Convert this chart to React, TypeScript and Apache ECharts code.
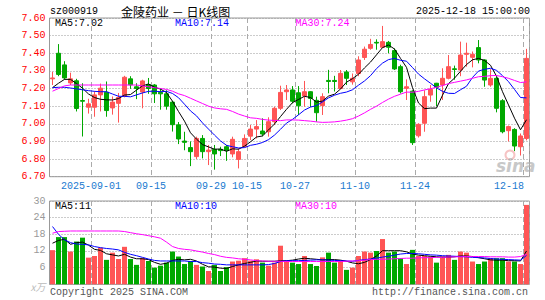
import React, { useEffect, useRef } from 'react';
import * as echarts from 'echarts';

const categories = [
  '2025-08-21', '2025-08-22', '2025-08-25', '2025-08-26', '2025-08-27', '2025-08-28', '2025-08-29',
  '2025-09-01', '2025-09-02', '2025-09-03', '2025-09-04', '2025-09-05',
  '2025-09-08', '2025-09-09', '2025-09-10', '2025-09-11', '2025-09-12',
  '2025-09-15', '2025-09-16', '2025-09-17', '2025-09-18', '2025-09-19',
  '2025-09-22', '2025-09-23', '2025-09-24', '2025-09-25', '2025-09-26',
  '2025-09-29', '2025-09-30',
  '2025-10-09', '2025-10-10',
  '2025-10-13', '2025-10-14', '2025-10-15', '2025-10-16', '2025-10-17',
  '2025-10-20', '2025-10-21', '2025-10-22', '2025-10-23', '2025-10-24',
  '2025-10-27', '2025-10-28', '2025-10-29', '2025-10-30', '2025-10-31',
  '2025-11-03', '2025-11-04', '2025-11-05', '2025-11-06', '2025-11-07',
  '2025-11-10', '2025-11-11', '2025-11-12', '2025-11-13', '2025-11-14',
  '2025-11-17', '2025-11-18', '2025-11-19', '2025-11-20', '2025-11-21',
  '2025-11-24', '2025-11-25', '2025-11-26', '2025-11-27', '2025-11-28',
  '2025-12-01', '2025-12-02', '2025-12-03', '2025-12-04', '2025-12-05',
  '2025-12-08', '2025-12-09', '2025-12-10', '2025-12-11', '2025-12-12',
  '2025-12-15', '2025-12-16', '2025-12-17', '2025-12-18',
];

const tickDates = ['2025-09-01', '2025-09-15', '2025-09-29', '2025-10-15', '2025-10-27', '2025-11-10', '2025-11-24', '2025-12-18'];
const tickTexts = ['2025-09-01', '09-15', '09-29', '10-15', '10-27', '11-10', '11-24', '12-18'];

const opens = [7.255, 7.40, 7.334, 7.232, 7.244, 7.132, 7.094, 7.094, 7.164, 7.179,
  7.09, 7.116, 7.155, 7.255, 7.21, 7.18, 7.222, 7.22, 7.178, 7.17,
  7.123, 6.994, 6.902, 6.865, 6.814, 6.917, 6.842, 6.855, 6.855, 6.87,
  6.829, 6.798, 6.87, 6.93, 6.97, 6.959, 6.955, 7.012, 7.088, 7.182,
  7.192, 7.176, 7.158, 7.182, 7.133, 7.103, 7.246, 7.246, 7.2, 7.294,
  7.238, 7.285, 7.376, 7.428, 7.462, 7.434, 7.462, 7.415, 7.324, 7.201,
  7.185, 6.932, 7.003, 7.163, 7.23, 7.22, 7.258, 7.312, 7.305, 7.394,
  7.377, 7.432, 7.362, 7.22, 7.258, 7.131, 6.961, 6.968, 6.87, 6.917];

const closes = [7.26, 7.28, 7.26, 7.255, 7.087, 7.128, 7.113, 7.164, 7.202, 7.075,
  7.123, 7.149, 7.264, 7.221, 7.20, 7.243, 7.20, 7.17, 7.17, 7.10,
  6.995, 6.914, 6.895, 6.842, 6.917, 6.842, 6.851, 6.829, 6.848, 6.848,
  6.912, 6.842, 6.917, 6.97, 6.984, 6.942, 7.012, 7.088, 7.178, 7.192,
  7.128, 7.102, 7.182, 7.144, 7.063, 7.154, 7.24, 7.24, 7.286, 7.258,
  7.258, 7.362, 7.423, 7.45, 7.458, 7.466, 7.434, 7.311, 7.182, 7.21,
  6.893, 6.997, 7.154, 7.195, 7.207, 7.258, 7.324, 7.308, 7.39, 7.40,
  7.394, 7.362, 7.248, 7.258, 7.088, 6.955, 6.984, 6.874, 6.931, 7.371];

const lows = [7.22, 7.27, 7.25, 7.22, 7.07, 6.928, 7.058, 7.04, 7.07, 7.04,
  7.052, 7.007, 7.15, 7.198, 7.14, 7.088, 7.17, 7.118, 7.08, 7.08,
  6.956, 6.885, 6.85, 6.76, 6.80, 6.804, 6.766, 6.74, 6.817, 6.79,
  6.81, 6.747, 6.866, 6.908, 6.917, 6.93, 6.927, 6.993, 7.078, 7.135,
  7.116, 7.05, 7.097, 7.095, 7.012, 7.05, 7.173, 7.183, 7.195, 7.22,
  7.222, 7.27, 7.362, 7.42, 7.42, 7.43, 7.40, 7.305, 7.172, 7.135,
  6.88, 6.922, 6.955, 7.125, 7.10, 7.135, 7.252, 7.25, 7.27, 7.324,
  7.32, 7.343, 7.21, 7.21, 7.065, 6.946, 6.90, 6.845, 6.82, 6.906];

const highs = [7.295, 7.452, 7.355, 7.29, 7.255, 7.23, 7.142, 7.185, 7.228, 7.24,
  7.155, 7.175, 7.272, 7.27, 7.23, 7.25, 7.26, 7.225, 7.2, 7.19,
  7.13, 7.01, 6.955, 6.9, 6.927, 6.936, 6.88, 6.88, 6.87, 6.88,
  6.927, 6.861, 6.94, 6.993, 7.021, 7.031, 7.037, 7.097, 7.216, 7.22,
  7.214, 7.214, 7.243, 7.185, 7.154, 7.173, 7.306, 7.272, 7.305, 7.305,
  7.285, 7.383, 7.438, 7.482, 7.479, 7.555, 7.47, 7.428, 7.335, 7.252,
  7.19, 7.003, 7.19, 7.22, 7.232, 7.315, 7.39, 7.33, 7.466, 7.46,
  7.41, 7.475, 7.366, 7.31, 7.265, 7.14, 6.99, 6.975, 6.945, 7.425];

const ma5 = [7.205, 7.23, 7.252, 7.252, 7.228, 7.202, 7.169, 7.149, 7.139, 7.136,
  7.135, 7.143, 7.163, 7.166, 7.191, 7.215, 7.226, 7.207, 7.197, 7.177,
  7.128, 7.070, 7.015, 6.949, 6.913, 6.882, 6.869, 6.856, 6.857, 6.844,
  6.858, 6.856, 6.873, 6.898, 6.925, 6.931, 6.965, 6.999, 7.041, 7.082,
  7.120, 7.138, 7.156, 7.149, 7.123, 7.129, 7.157, 7.168, 7.197, 7.236,
  7.256, 7.281, 7.317, 7.350, 7.391, 7.432, 7.447, 7.424, 7.371, 7.320,
  7.205, 7.118, 7.086, 7.089, 7.089, 7.162, 7.228, 7.259, 7.298, 7.336,
  7.363, 7.371, 7.359, 7.332, 7.270, 7.182, 7.107, 7.032, 6.966, 7.023];

const ma10 = [7.205, 7.207, 7.207, 7.203, 7.198, 7.193, 7.188, 7.184, 7.182, 7.182,
  7.169, 7.156, 7.156, 7.153, 7.164, 7.175, 7.184, 7.185, 7.182, 7.184,
  7.172, 7.148, 7.111, 7.073, 7.045, 7.005, 6.970, 6.936, 6.903, 6.878,
  6.870, 6.863, 6.865, 6.878, 6.884, 6.894, 6.910, 6.936, 6.969, 7.004,
  7.025, 7.051, 7.078, 7.095, 7.103, 7.124, 7.147, 7.162, 7.173, 7.180,
  7.193, 7.219, 7.243, 7.273, 7.313, 7.344, 7.364, 7.371, 7.360, 7.355,
  7.319, 7.282, 7.255, 7.230, 7.204, 7.184, 7.173, 7.172, 7.193, 7.213,
  7.263, 7.299, 7.309, 7.315, 7.303, 7.273, 7.239, 7.195, 7.149, 7.147];

const ma30 = [7.185, 7.20, 7.215, 7.22, 7.22, 7.22, 7.22, 7.22, 7.22, 7.22,
  7.22, 7.22, 7.22, 7.22, 7.22, 7.215, 7.21, 7.205, 7.20, 7.195,
  7.185, 7.17, 7.16, 7.145, 7.13, 7.115, 7.10, 7.09, 7.085, 7.082,
  7.070, 7.055, 7.044, 7.034, 7.031, 7.025, 7.021, 7.019, 7.018, 7.022,
  7.022, 7.021, 7.018, 7.015, 7.011, 7.008, 7.009, 7.011, 7.015, 7.021,
  7.029, 7.044, 7.062, 7.082, 7.100, 7.121, 7.140, 7.156, 7.168, 7.180,
  7.179, 7.184, 7.192, 7.199, 7.207, 7.217, 7.228, 7.235, 7.242, 7.249,
  7.258, 7.267, 7.269, 7.273, 7.274, 7.267, 7.258, 7.246, 7.234, 7.238];

const volumes = [12.3, 17.0, 17.0, 11.8, 15.4, 16.8, 9.6, 10.2, 13.2, 8.8,
  11.4, 9.1, 13.5, 9.1, 7.0, 9.5, 8.4, 6.0, 6.7, 7.8,
  11.8, 10.0, 7.3, 8.4, 7.0, 6.4, 4.8, 7.0, 4.8, 6.2,
  8.2, 8.5, 9.4, 8.5, 9.0, 7.8, 6.7, 7.8, 13.9, 8.4,
  7.8, 7.3, 10.2, 7.3, 6.6, 9.7, 11.4, 7.8, 8.5, 5.2,
  6.0, 10.2, 11.8, 11.4, 12.0, 16.3, 11.4, 11.8, 9.4, 7.3,
  12.4, 10.2, 10.2, 10.0, 7.8, 10.0, 10.6, 8.8, 11.8, 11.4,
  8.2, 7.3, 8.2, 9.4, 9.4, 9.4, 8.2, 8.2, 7.3, 28.6];

const volMa5 = [14.8, 15.8, 16.2, 14.4, 15.0, 15.2, 14.1, 12.6, 12.2, 11.0,
  10.6, 10.2, 10.8, 9.8, 9.2, 9.2, 8.9, 7.9, 7.2, 7.6,
  8.6, 9.0, 8.8, 9.0, 8.4, 7.2, 6.3, 6.2, 5.8, 5.7,
  6.4, 7.0, 7.5, 7.9, 8.4, 8.3, 8.3, 8.3, 8.5, 8.5,
  8.7, 9.1, 9.4, 9.2, 9.0, 8.8, 8.9, 8.9, 8.7, 8.3,
  7.7, 7.4, 7.9, 8.9, 10.2, 12.1, 12.1, 12.1, 12.1, 11.7,
  10.9, 10.5, 10.3, 10.1, 9.9, 9.8, 9.8, 9.9, 10.2, 10.2,
  10.0, 9.6, 9.2, 8.8, 8.7, 8.7, 8.5, 8.5, 8.4, 12.0];

const volMa10 = [20.8, 18.0, 16.0, 15.0, 14.5, 14.4, 14.2, 13.6, 13.2, 12.9,
  12.7, 12.4, 11.5, 10.8, 10.3, 9.7, 9.1, 8.6, 8.4, 8.4,
  8.4, 8.4, 8.4, 8.2, 8.2, 7.8, 7.6, 7.3, 7.2, 7.0,
  7.0, 7.0, 7.0, 7.0, 7.0, 7.0, 7.1, 7.5, 8.2, 8.5,
  8.5, 8.5, 8.6, 8.7, 8.8, 8.8, 8.7, 8.6, 8.5, 8.4,
  8.3, 8.6, 8.9, 9.1, 9.4, 9.8, 10.1, 10.5, 10.9, 11.1,
  11.1, 11.0, 10.8, 10.6, 10.5, 10.3, 10.2, 10.1, 10.0, 9.9,
  9.7, 9.6, 9.5, 9.3, 9.1, 9.0, 8.9, 8.8, 8.7, 10.4];

const volMa30 = [18.4, 19.0, 19.1, 19.2, 19.2, 19.2, 19.2, 19.2, 19.2, 19.2,
  19.2, 19.2, 19.0, 18.6, 18.2, 17.9, 17.5, 17.1, 16.6, 15.2,
  13.6, 12.9, 12.6, 12.4, 12.0, 11.6, 11.1, 10.7, 10.1, 9.7,
  9.5, 9.2, 9.0, 8.8, 8.5, 8.4, 8.3, 8.3, 8.3, 8.2,
  8.2, 8.2, 8.2, 8.2, 8.2, 8.2, 8.2, 8.2, 8.2, 8.3,
  8.4, 8.5, 8.7, 8.9, 9.0, 9.0, 9.1, 9.2, 9.3, 9.4,
  9.4, 9.5, 9.6, 9.6, 9.7, 9.7, 9.8, 9.9, 9.9, 10.0,
  10.0, 10.0, 10.0, 9.9, 9.9, 9.9, 9.8, 9.8, 10.0, 10.8];

const priceTicks = { min: 6.7, max: 7.6, step: 0.1 };
const volTicks = { min: 0, max: 30, step: 6 };

const RED = '#ff5555';
const GREEN = '#00a800';
const MONO = '"Liberation Mono", "DejaVu Sans Mono", monospace';
const CJK = '"Noto Sans CJK SC", sans-serif';

export default function App() {
  const ref = useRef<HTMLDivElement>(null);

  useEffect(() => {
    const chart = echarts.init(ref.current as HTMLDivElement, null, { renderer: 'svg' });
    const candleData = opens.map((o, i) => [o, closes[i], lows[i], highs[i]]);
    const volData = volumes.map((v, i) => ({
      value: v,
      itemStyle: { color: closes[i] >= opens[i] ? RED : GREEN },
    }));
    const isTick = (_i: number, v: string) => tickDates.indexOf(v) >= 0;
    const vSplit = { show: true, interval: isTick, lineStyle: { color: '#aaa', type: [5, 3], width: 1 } };
    const hSplit = { show: true, lineStyle: { color: '#999', type: [1, 2], width: 1 } };
    const lineS = (name: string, data: number[], color: string, xi: number) => ({
      name, type: 'line', data, xAxisIndex: xi, yAxisIndex: xi, symbol: 'none', smooth: false,
      lineStyle: { color, width: 1 }, itemStyle: { color }, z: 5, silent: true,
    });
    const txt = (text: string, x: number, y: number, fill: string, opts: any = {}) => ({
      type: 'text', x, y, silent: true,
      style: { text, fill, font: `10px ${MONO}`, align: 'left', verticalAlign: 'middle', ...opts },
    });

    const option: any = {
      animation: false,
      backgroundColor: '#fff',
      grid: [
        { left: 49.5, width: 480, top: 18, height: 158.7, show: true, borderColor: '#999', borderWidth: 1 },
        { left: 49.5, width: 480, top: 201, height: 83.3, show: true, borderColor: '#999', borderWidth: 1 },
      ],
      xAxis: [
        {
          type: 'category', gridIndex: 0, data: categories, boundaryGap: true,
          axisLine: { show: false }, axisTick: { show: false },
          axisLabel: {
            interval: isTick, margin: 5, color: '#1a7ad0', fontSize: 10, fontFamily: MONO,
            formatter: (v: string) => {
              const i = tickDates.indexOf(v);
              const t = tickTexts[i];
              return i === tickDates.length - 1 ? `{b|${t}}` : `{a|${t}}`;
            },
            rich: {
              a: { fontSize: 10, fontFamily: MONO, color: '#1a7ad0', padding: [0, 7, 0, 0] },
              b: { fontSize: 10, fontFamily: MONO, color: '#1a7ad0', padding: [0, 35, 0, 0] },
            },
          },
          splitLine: vSplit,
        },
        {
          type: 'category', gridIndex: 1, data: categories, boundaryGap: true,
          axisLine: { show: false }, axisTick: { show: false },
          axisLabel: { show: false, interval: isTick },
          splitLine: vSplit,
        },
      ],
      yAxis: [
        {
          type: 'value', gridIndex: 0, min: priceTicks.min, max: priceTicks.max, interval: priceTicks.step,
          axisLine: { show: false }, axisTick: { show: false },
          axisLabel: { color: '#ff0000', fontSize: 10, fontFamily: MONO, margin: 4, formatter: (v: number) => v.toFixed(2) },
          splitLine: hSplit,
        },
        {
          type: 'value', gridIndex: 1, min: volTicks.min, max: volTicks.max, interval: volTicks.step,
          axisLine: { show: false }, axisTick: { show: false },
          axisLabel: {
            color: '#999', fontSize: 10, fontFamily: MONO, margin: 4,
            formatter: (v: number) => (v === 0 ? '{u|x万}' : String(v)),
            rich: { u: { fontSize: 10, fontFamily: CJK, fontStyle: 'italic', color: '#bbb', padding: [5, 0, 0, 0] } },
          },
          splitLine: hSplit,
        },
      ],
      series: [
        {
          type: 'candlestick', xAxisIndex: 0, yAxisIndex: 0, data: candleData, barWidth: 5,
          itemStyle: { color: RED, color0: GREEN, borderColor: RED, borderColor0: GREEN, borderWidth: 1 },
          silent: true,
        },
        lineS('MA5', ma5, '#000000', 0),
        lineS('MA10', ma10, '#0000ff', 0),
        lineS('MA30', ma30, '#ff00ff', 0),
        { type: 'bar', xAxisIndex: 1, yAxisIndex: 1, data: volData, barWidth: 5, silent: true },
        lineS('VMA5', volMa5, '#000000', 1),
        lineS('VMA10', volMa10, '#0000ff', 1),
        lineS('VMA30', volMa30, '#ff00ff', 1),
      ],
      graphic: [
        txt('sz000919', 50, 11, '#000'),
        txt('金陵药业 － 日K线图', 121, 11, '#000', { font: `12px ${CJK}` }),
        txt('2025-12-18 15:00:00', 530, 11, '#000', { align: 'right' }),
        txt('MA5:7.02', 55, 23.5, '#000'),
        txt('MA10:7.14', 175, 23.5, '#0000ff'),
        txt('MA30:7.24', 295.5, 23.5, '#ff00ff'),
        txt('MA5:11', 55, 206.5, '#000'),
        txt('MA10:10', 175, 206.5, '#0000ff'),
        txt('MA30:10', 295, 206.5, '#ff00ff'),
        txt('Copyright 2025 SINA.COM', 50, 292.5, '#555'),
        txt('http://finance.sina.com.cn', 528, 292.5, '#555', { align: 'right' }),
        { type: 'ring', silent: true, shape: { cx: 510, cy: 155, r: 5.5, r0: 3.5 }, style: { fill: '#f6c4c4' } },
        txt('sina', 496, 166, '#c8c8c8', { font: `italic bold 17px "DejaVu Sans", sans-serif` }),
      ],
    };
    chart.setOption(option);
    return () => chart.dispose();
  }, []);

  return <div ref={ref} style={{ position: 'absolute', left: 0, top: 0, width: 545, height: 300 }} />;
}
